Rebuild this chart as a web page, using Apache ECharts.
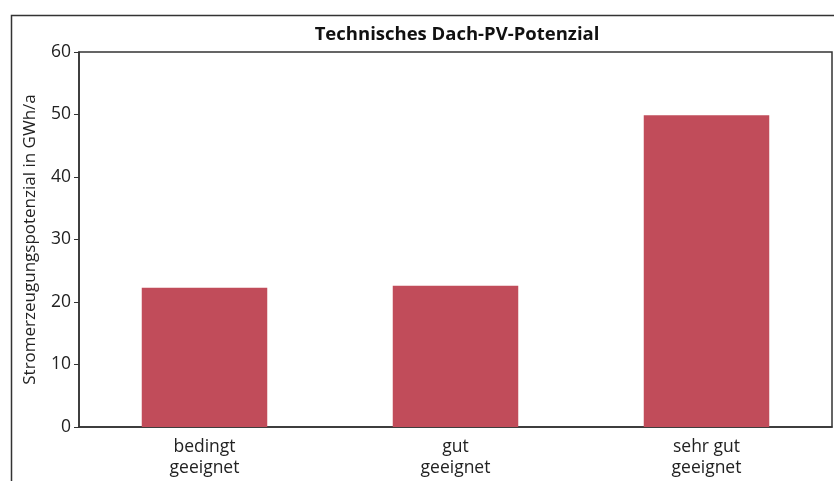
<!DOCTYPE html>
<html>
<head>
<meta charset="utf-8">
<script src="https://cdn.jsdelivr.net/npm/echarts@6/dist/echarts.min.js"></script>
<style>
  html, body { margin: 0; padding: 0; background: #fff; }
  #chart { width: 834px; height: 481px; }
</style>
</head>
<body>
<div id="chart"></div>
<script>
// Daten
const categories = ["bedingt\ngeeignet", "gut\ngeeignet", "sehr gut\ngeeignet"];
const potenzial = [22.3, 22.6, 49.9];
const titleText = "Technisches Dach-PV-Potenzial";
const yAxisName = "Stromerzeugungspotenzial in GWh/a";

const chart = echarts.init(document.getElementById("chart"));
const font = "'Open Sans', sans-serif";

chart.setOption({
  animation: false,
  textStyle: { fontFamily: font },
  title: {
    text: titleText,
    left: 452,
    textAlign: "center",
    top: 20,
    textStyle: { fontFamily: font, fontSize: 18.5, fontWeight: "bold", color: "#111" }
  },
  // äußerer Rahmen
  graphic: [{
    type: "rect",
    left: 9, top: 13,
    shape: { width: 840, height: 500 },
    style: { fill: "none", stroke: "#333", lineWidth: 1.5 },
    silent: true
  }],
  grid: {
    left: 79, top: 52, right: 2, bottom: 54,
    show: true,
    borderColor: "#333",
    borderWidth: 1.5
  },
  xAxis: {
    type: "category",
    data: categories,
    axisLine: { lineStyle: { color: "#333", width: 1.5 } },
    axisTick: { alignWithLabel: true, length: 4, lineStyle: { color: "#333" } },
    axisLabel: { color: "#222", fontSize: 17.5, lineHeight: 21, margin: 10, fontFamily: font }
  },
  yAxis: {
    type: "value",
    min: 0, max: 60, interval: 10,
    name: yAxisName,
    nameLocation: "middle",
    nameGap: 40,
    nameTextStyle: { color: "#222", fontSize: 17, fontFamily: font },
    axisLine: { show: true, lineStyle: { color: "#333", width: 1.5 } },
    axisTick: { show: true, length: 5, lineStyle: { color: "#333" } },
    axisLabel: { color: "#222", fontSize: 17.5, margin: 8, fontFamily: font },
    splitLine: { show: false }
  },
  series: [{
    type: "bar",
    data: potenzial,
    barWidth: "50%",
    itemStyle: { color: "#c14c5a" }
  }]
});
</script>
</body>
</html>
